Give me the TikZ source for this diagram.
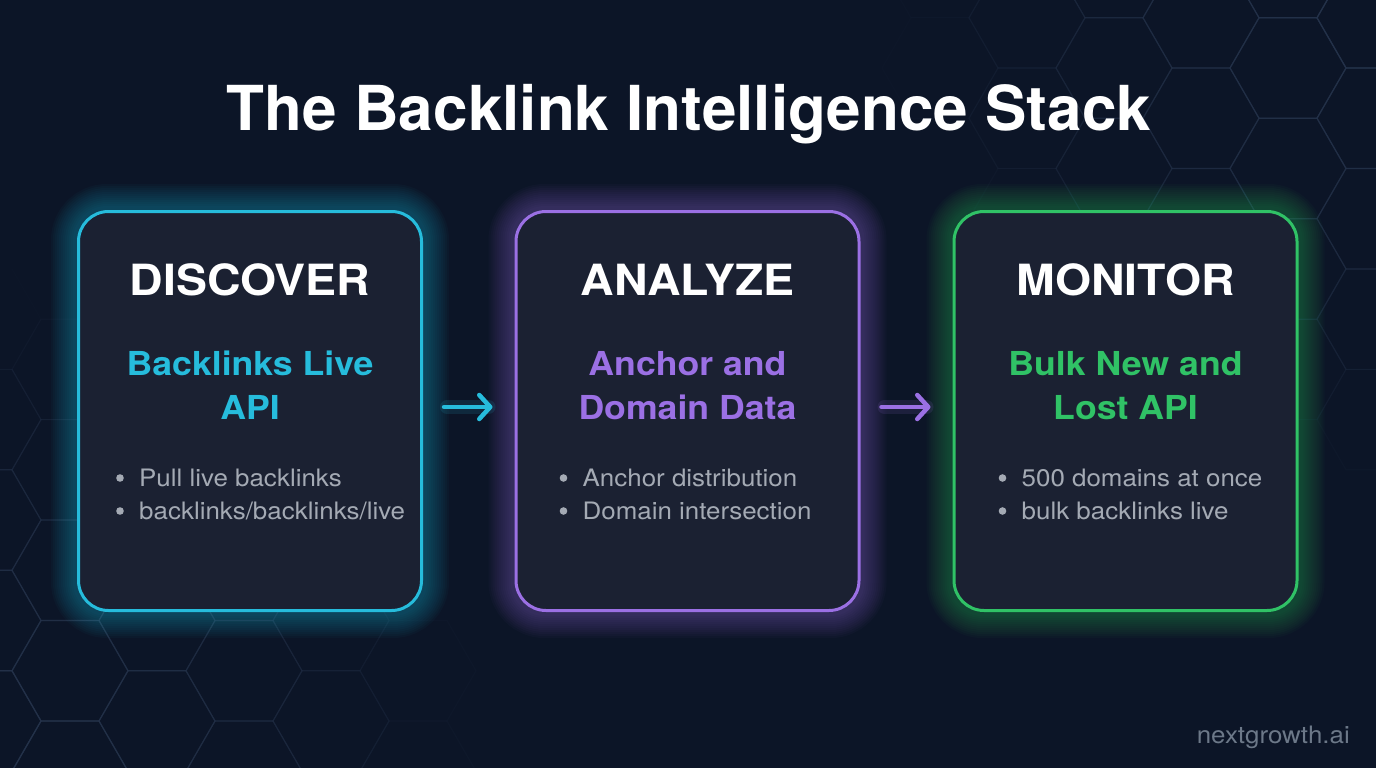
\documentclass[tikz,border=0pt]{standalone}
\usepackage{fontspec}
\setmainfont[FakeStretch=1.08]{TeX Gyre Heros}
\newfontfamily\titlefont{TeX Gyre Heros}
\usetikzlibrary{positioning, arrows.meta}

\definecolor{bgnavy}{HTML}{0C1527}
\definecolor{cardfill}{HTML}{1B2132}
\definecolor{hexline}{HTML}{24324A}
\definecolor{discblue}{HTML}{26BCDC}
\definecolor{analpurple}{HTML}{9B70E4}
\definecolor{monigreen}{HTML}{30C266}
\definecolor{bulletgray}{HTML}{A4AAB4}
\definecolor{markgray}{HTML}{6C7888}

\pgfdeclarelayer{hexbg}
\pgfdeclarelayer{glow}
\pgfsetlayers{hexbg,glow,main}

\begin{document}
\begin{tikzpicture}[
    x=1pt, y=-1pt,
    % one rounded card per stage
    card/.style={rectangle, rounded corners=30pt, draw=#1, line width=3pt, fill=cardfill,
        minimum width=343pt, minimum height=399pt, inner sep=0pt},
    stagehead/.style={text=white, font=\bfseries\fontsize{43}{50}\selectfont, anchor=base},
    apiname/.style={text=#1, font=\bfseries\fontsize{33}{44}\selectfont, align=center, anchor=base},
    bulletline/.style={text=bulletgray, font=\fontsize{24}{30}\selectfont, anchor=base west, inner sep=0pt},
    flow/.style={draw=#1, line width=4.5pt, line cap=round, shorten <=21pt, shorten >=22pt,
        -{Straight Barb[length=11pt, width=24pt, round]}},
    glowline/.style={draw=#1, rounded corners=30pt}
]
    \useasboundingbox (0,0) rectangle (1376,768);

    % --- Background with faint hexagon grid ---
    \begin{pgfonlayer}{hexbg}
        \fill[bgnavy] (0,0) rectangle (1376,768);
        \clip (0,0) rectangle (1376,768);
        \foreach \i in {-13,...,3} {
            \foreach \j in {-1,...,8} {
                \pgfmathsetmacro{\cx}{1114+87*\i}
                \pgfmathsetmacro{\cy}{68+100.46*\j+50.23*abs(mod(\i,2))}
                \pgfmathsetmacro{\hexop}{max(0, 1 - min(veclen(1376-\cx,\cy), veclen(\cx,768-\cy))/470)}
                \draw[hexline, line width=1.2pt, opacity=\hexop, shift={(\cx,\cy)}]
                    (0:58) -- (60:58) -- (120:58) -- (180:58) -- (240:58) -- (300:58) -- cycle;
            }
        }
    \end{pgfonlayer}

    % --- Title ---
    \node[text=white, font=\titlefont\bfseries\fontsize{62}{70}\selectfont, anchor=base] (title) at (689,130)
        {The Backlink Intelligence Stack};

    % --- The three cards ---
    \node[card=discblue]   (disc) at (250,411) {};
    \node[card=analpurple] (anal) at (687.5,411) {};
    \node[card=monigreen]  (moni) at (1125.5,411) {};

    % soft glow round each card
    \begin{pgfonlayer}{glow}
        \foreach \stage/\col in {disc/discblue, anal/analpurple, moni/monigreen} {
            \foreach \w in {52,48,...,8} {
                \draw[glowline=\col, line width=\w pt, opacity=0.03] (\stage.south west) rectangle (\stage.north east);
            }
        }
    \end{pgfonlayer}

    % --- Stage names ---
    \node[stagehead] (discT) at ([yshift=-85pt]disc.north) {DISCOVER};
    \node[stagehead] (analT) at ([yshift=-85pt]anal.north) {ANALYZE};
    \node[stagehead] (moniT) at ([yshift=-85pt]moni.north) {MONITOR};

    % --- API names (base sits on the last line) ---
    \node[apiname=discblue]   (discA) at ([yshift=-209pt]disc.north) {Backlinks Live\\API};
    \node[apiname=analpurple] (analA) at ([yshift=-209pt]anal.north) {Anchor and\\Domain Data};
    \node[apiname=monigreen]  (moniA) at ([yshift=-209pt]moni.north) {Bulk New and\\Lost API};

    % --- Bullet lists ---
    \foreach \stage/\dx/\first/\second in {disc/62/{Pull live backlinks}/{backlinks/backlinks/live},
            anal/68/{Anchor distribution}/{Domain intersection},
            moni/69/{500 domains at once}/{bulk backlinks live}} {
        \node[bulletline] (\stage-b1) at ([xshift=\dx pt, yshift=-276pt]\stage.north west) {\first};
        \node[bulletline] (\stage-b2) at ([xshift=\dx pt, yshift=-309pt]\stage.north west) {\second};
        \fill[bulletgray] ([xshift=-19pt, yshift=8pt]\stage-b1.base west) circle (3.8pt);
        \fill[bulletgray] ([xshift=-19pt, yshift=8pt]\stage-b2.base west) circle (3.8pt);
    }

    % --- Arrows between the cards ---
    \begin{pgfonlayer}{glow}
        \draw[draw=discblue, opacity=0.12, line width=14pt, line cap=round, shorten <=24pt, shorten >=26pt]
            ([yshift=4pt]disc.east) -- ([yshift=4pt]anal.west);
        \draw[draw=analpurple, opacity=0.12, line width=14pt, line cap=round, shorten <=24pt, shorten >=26pt]
            ([yshift=4pt]anal.east) -- ([yshift=4pt]moni.west);
    \end{pgfonlayer}
    \draw[flow=discblue]   ([yshift=4pt]disc.east) -- ([yshift=4pt]anal.west);
    \draw[flow=analpurple] ([yshift=4pt]anal.east) -- ([yshift=4pt]moni.west);

    % --- Watermark ---
    \node[text=markgray, font=\fontsize{24}{28}\selectfont, anchor=base east, inner sep=0pt] (mark) at (1350,743)
        {nextgrowth.ai};

\end{tikzpicture}
\end{document}
